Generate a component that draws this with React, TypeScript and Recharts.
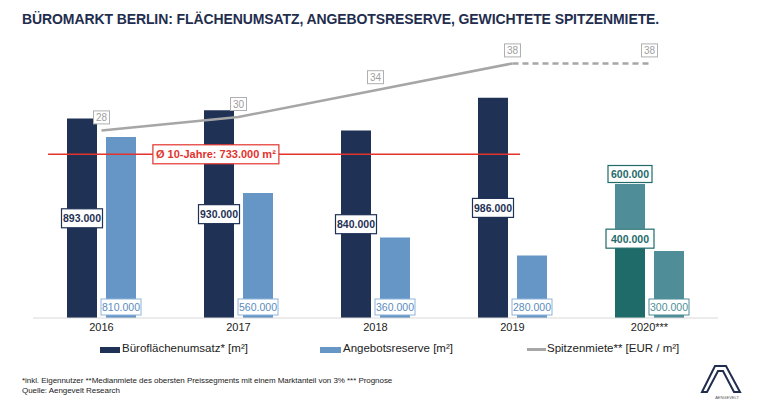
import React from 'react';
import { ComposedChart, Bar, Line, XAxis, YAxis, ReferenceLine, LabelList, Cell } from 'recharts';

const years = ['2016', '2017', '2018', '2019', '2020***'];
const umsatz = [893000, 930000, 840000, 986000, 400000];
const umsatzPrognoseExtra = [null, null, null, null, 200000];
const umsatzTotal = [893000, 930000, 840000, 986000, 600000];
const angebot = [810000, 560000, 360000, 280000, 300000];
const mieteIst = [28, 30, 34, 38, null];
const mietePrognose = [null, null, null, 38, 38];
const avg10 = 733000;
const isForecast = [false, false, false, false, true];

const NAVY = '#1f3256';
const LIGHT = '#6596c6';
const TEAL_DARK = '#1e6b6a';
const TEAL_LIGHT = '#4f8e98';
const GREY_LINE = '#a6a6a6';
const RED = '#e3332d';

const data = years.map((y, i) => ({
  year: y,
  umsatz: umsatz[i],
  extra: umsatzPrognoseExtra[i],
  total: umsatzTotal[i],
  angebot: angebot[i],
  ist: mieteIst[i],
  prog: mietePrognose[i],
}));

const fmt = (v: number) => String(Math.round(v / 1000)) + '.000';
const FONT = '"Liberation Sans", Arial, sans-serif';

function geo(props: any) {
  const vb = props.viewBox || {};
  return {
    x: props.x ?? vb.x,
    y: props.y ?? vb.y,
    width: props.width ?? vb.width ?? 0,
    height: props.height ?? vb.height ?? 0,
  };
}

const DarkLabel = (props: any) => {
  const { value, index } = props;
  if (value == null) return null;
  const { x, y, width, height } = geo(props);
  const cx = x + width / 2;
  const forecast = isForecast[index];
  const cy = forecast ? y + 10 : y + height / 2;
  const w = forecast ? 48 : 41;
  const color = forecast ? TEAL_DARK : NAVY;
  return (
    <g>
      <rect x={cx - w / 2} y={cy - 9.5} width={w} height={19} fill="#fff" stroke={color} strokeWidth={1.2} />
      <text x={cx} y={cy + 4} textAnchor="middle" fontSize={10.5} fontWeight="bold" fill={color} fontFamily={FONT}>
        {fmt(value)}
      </text>
    </g>
  );
};

const TotalLabel = (props: any) => {
  const { value } = props;
  if (value == null) return null;
  const { x, y, width, height } = geo(props);
  if (!(Math.abs(height) > 0.5)) return null;
  const cx = x + width / 2;
  const top = Math.min(y, y + height);
  const cy = top - 10;
  return (
    <g>
      <rect x={cx - 22} y={cy - 8.5} width={44} height={17} fill="#fff" stroke={TEAL_DARK} strokeWidth={1.2} />
      <text x={cx} y={cy + 4} textAnchor="middle" fontSize={10.5} fontWeight="bold" fill={TEAL_DARK} fontFamily={FONT}>
        {fmt(value)}
      </text>
    </g>
  );
};

const LightLabel = (props: any) => {
  const { value, index } = props;
  if (value == null) return null;
  const { x, y, width, height } = geo(props);
  const cx = x + width / 2;
  const bottom = y + height;
  const cy = bottom - 11;
  const color = isForecast[index] ? TEAL_LIGHT : '#5a8cc0';
  const border = isForecast[index] ? TEAL_LIGHT : '#8fb3d9';
  return (
    <g>
      <rect x={cx - 20} y={cy - 8} width={40} height={16} fill="#fff" stroke={border} strokeWidth={1} />
      <text x={cx} y={cy + 4} textAnchor="middle" fontSize={10.5} fill={color} fontFamily={FONT}>
        {fmt(value)}
      </text>
    </g>
  );
};

const makeLineLabel = (only?: number) => (props: any) => {
  const { value, index } = props;
  if (value == null) return null;
  if (only != null && index !== only) return null;
  const { x, y } = geo(props);
  const cy = y - 13;
  return (
    <g>
      <rect x={x - 8} y={cy - 6.5} width={16} height={13} fill="#fff" stroke="#b0b0b0" strokeWidth={1} />
      <text x={x} y={cy + 4} textAnchor="middle" fontSize={10} fill="#a0a0a0" fontFamily={FONT}>
        {value}
      </text>
    </g>
  );
};

const AvgLine = (props: any) => {
  const { x1, x2, y1 } = props;
  const w = x2 - x1;
  const sx = x1 + w * 0.022;
  const ex = x1 + w * 0.711;
  const lx = x1 + w * 0.267;
  return (
    <g>
      <line x1={sx} x2={ex} y1={y1} y2={y1} stroke={RED} strokeWidth={1.5} />
      <rect x={lx - 63} y={y1 - 9.5} width={126} height={19} fill="#fff" stroke={RED} strokeWidth={1.2} />
      <text x={lx} y={y1 + 4} textAnchor="middle" fontSize={11} fontWeight="bold" fill={RED} fontFamily={FONT}>
        {'Ø 10-Jahre: ' + fmt(avg10) + ' m²'}
      </text>
    </g>
  );
};

export default function App() {
  return (
    <div style={{ position: 'absolute', left: 0, top: 0, width: 762, height: 405, background: '#fff', fontFamily: FONT, overflow: 'hidden' }}>
      <div style={{ position: 'absolute', left: 22, top: 11, fontSize: 14, fontWeight: 'bold', color: '#1f2d4e', whiteSpace: 'nowrap', letterSpacing: -0.1 }}>
        BÜROMARKT BERLIN: FLÄCHENUMSATZ, ANGEBOTSRESERVE, GEWICHTETE SPITZENMIETE.
      </div>
      <div style={{ position: 'absolute', left: 0, top: 0 }}>
        <ComposedChart width={762} height={405} data={data} margin={{ top: 50, right: 44, left: 33, bottom: 67 }} barSize={30} barGap={9}>
          <XAxis dataKey="year" axisLine={{ stroke: '#d9d9d9' }} tickLine={false} tickSize={0} tickMargin={5} height={20} interval={0}
            tick={{ fontSize: 11, fill: '#222', fontFamily: FONT }} />
          <YAxis yAxisId="left" hide domain={[0, 1200000]} />
          <YAxis yAxisId="right" hide orientation="right" domain={[0, 40]} />
          <Bar yAxisId="left" dataKey="umsatz" stackId="a" isAnimationActive={false}>
            {data.map((d, i) => <Cell key={i} fill={isForecast[i] ? TEAL_DARK : NAVY} />)}
            <LabelList dataKey="umsatz" content={DarkLabel} />
          </Bar>
          <Bar yAxisId="left" dataKey="extra" stackId="a" fill={TEAL_LIGHT} isAnimationActive={false}>
            <LabelList dataKey="total" content={TotalLabel} />
          </Bar>
          <Bar yAxisId="left" dataKey="angebot" isAnimationActive={false}>
            {data.map((d, i) => <Cell key={i} fill={isForecast[i] ? TEAL_LIGHT : LIGHT} />)}
            <LabelList dataKey="angebot" content={LightLabel} />
          </Bar>
          <ReferenceLine yAxisId="left" y={avg10} shape={AvgLine} />
          <Line yAxisId="right" dataKey="ist" stroke={GREY_LINE} strokeWidth={2.5} dot={false} isAnimationActive={false}>
            <LabelList dataKey="ist" content={makeLineLabel()} />
          </Line>
          <Line yAxisId="right" dataKey="prog" stroke={GREY_LINE} strokeWidth={2.5} strokeDasharray="6 4" dot={false} isAnimationActive={false}>
            <LabelList dataKey="prog" content={makeLineLabel(4)} />
          </Line>
        </ComposedChart>
      </div>
      <div style={{ position: 'absolute', top: 342, left: 0, width: 762, height: 16, fontSize: 11.5, color: '#222' }}>
        <div style={{ position: 'absolute', left: 100, top: 5, width: 20, height: 6, background: NAVY }} />
        <div style={{ position: 'absolute', left: 122, top: 0, whiteSpace: 'nowrap' }}>Büroflächenumsatz* [m²]</div>
        <div style={{ position: 'absolute', left: 320, top: 5, width: 21, height: 6, background: LIGHT }} />
        <div style={{ position: 'absolute', left: 343, top: 0, whiteSpace: 'nowrap' }}>Angebotsreserve [m²]</div>
        <div style={{ position: 'absolute', left: 527, top: 6, width: 19, height: 3, background: GREY_LINE }} />
        <div style={{ position: 'absolute', left: 547, top: 0, whiteSpace: 'nowrap' }}>Spitzenmiete** [EUR / m²]</div>
      </div>
      <div style={{ position: 'absolute', left: 22, top: 376, fontSize: 8, color: '#222', lineHeight: '10px', whiteSpace: 'nowrap', letterSpacing: -0.05 }}>
        <div>*inkl. Eigennutzer **Medianmiete des obersten Preissegments mit einem Marktanteil von 3% *** Prognose</div>
        <div>Quelle: Aengevelt Research</div>
      </div>
      <svg style={{ position: 'absolute', left: 690, top: 358 }} width={60} height={45}>
        <path d="M12 34 L25 8 L36 8 L50 34 L44 34 L33 13 L28 13 L17 34 Z" fill="none" stroke="#1f2d4e" strokeWidth={2} strokeLinejoin="miter" />
        <text x={37} y={41} textAnchor="middle" fontSize={4} fill="#555" fontFamily={FONT}>AENGEVELT</text>
      </svg>
    </div>
  );
}
